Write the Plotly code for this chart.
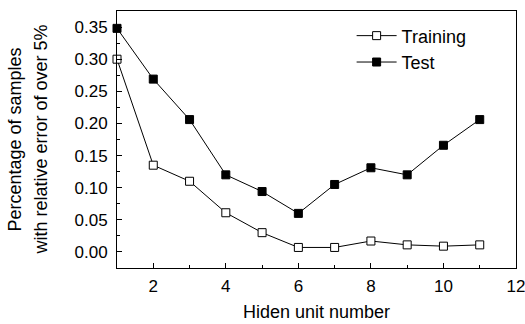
import plotly.graph_objects as go

hidden_units = [1, 2, 3, 4, 5, 6, 7, 8, 9, 10, 11]
training = [0.300, 0.135, 0.110, 0.061, 0.030, 0.007, 0.007, 0.017, 0.011, 0.009, 0.011]
test = [0.348, 0.269, 0.206, 0.120, 0.094, 0.060, 0.105, 0.131, 0.120, 0.166, 0.206]
y_title_lines = ["Percentage of samples", "with relative error of over 5%"]

FONT = "Liberation Sans, Arial, sans-serif"

fig = go.Figure()
fig.add_trace(go.Scatter(
    x=hidden_units, y=training, name="Training", mode="lines+markers",
    line=dict(color="black", width=1),
    marker=dict(symbol="square", size=8, color="white", line=dict(color="black", width=1)),
    cliponaxis=False,
))
fig.add_trace(go.Scatter(
    x=hidden_units, y=test, name="Test", mode="lines+markers",
    line=dict(color="black", width=1),
    marker=dict(symbol="square", size=8, color="black", line=dict(color="black", width=1)),
    cliponaxis=False,
))

for text, shift in zip(y_title_lines, [-103, -77]):
    fig.add_annotation(text=text, xref="paper", yref="paper", x=0, y=0.5,
                       xanchor="center", yanchor="middle", xshift=shift,
                       textangle=-90, showarrow=False, font=dict(size=18))

fig.update_layout(
    width=525, height=324,
    margin=dict(l=117, r=9, t=11, b=56),
    paper_bgcolor="white", plot_bgcolor="white",
    font=dict(family=FONT, size=17, color="black"),
    showlegend=True,
    legend=dict(x=0.588, y=0.975, xanchor="left", yanchor="top",
                bgcolor="rgba(0,0,0,0)", font=dict(size=18), itemwidth=40,
                tracegroupgap=0),
)
fig.update_xaxes(
    range=[1, 12], tickmode="linear", tick0=2, dtick=2,
    ticks="inside", ticklen=5, tickcolor="black", tickwidth=1,
    minor=dict(ticks="inside", ticklen=3, dtick=1, tick0=1, tickcolor="black"),
    showline=True, linecolor="black", linewidth=1, mirror=True,
    showgrid=False, zeroline=False, ticklabeloverflow="allow",
    ticklabelstandoff=3, automargin=False,
    title=dict(text="Hiden unit number", font=dict(size=18), standoff=9),
    tickfont=dict(size=17),
)
fig.update_yaxes(
    range=[-0.025, 0.375], tickmode="linear", tick0=0, dtick=0.05, tickformat=".2f",
    ticks="inside", ticklen=5, tickcolor="black", tickwidth=1,
    minor=dict(ticks="inside", ticklen=3, dtick=0.025, tick0=0, tickcolor="black"),
    showline=True, linecolor="black", linewidth=1, mirror=True,
    showgrid=False, zeroline=False, ticklabelstandoff=5, automargin=False,
    tickfont=dict(size=17),
)

fig.write_html("out.html", config={"displayModeBar": False},
               post_script="document.body.style.margin='0';")
